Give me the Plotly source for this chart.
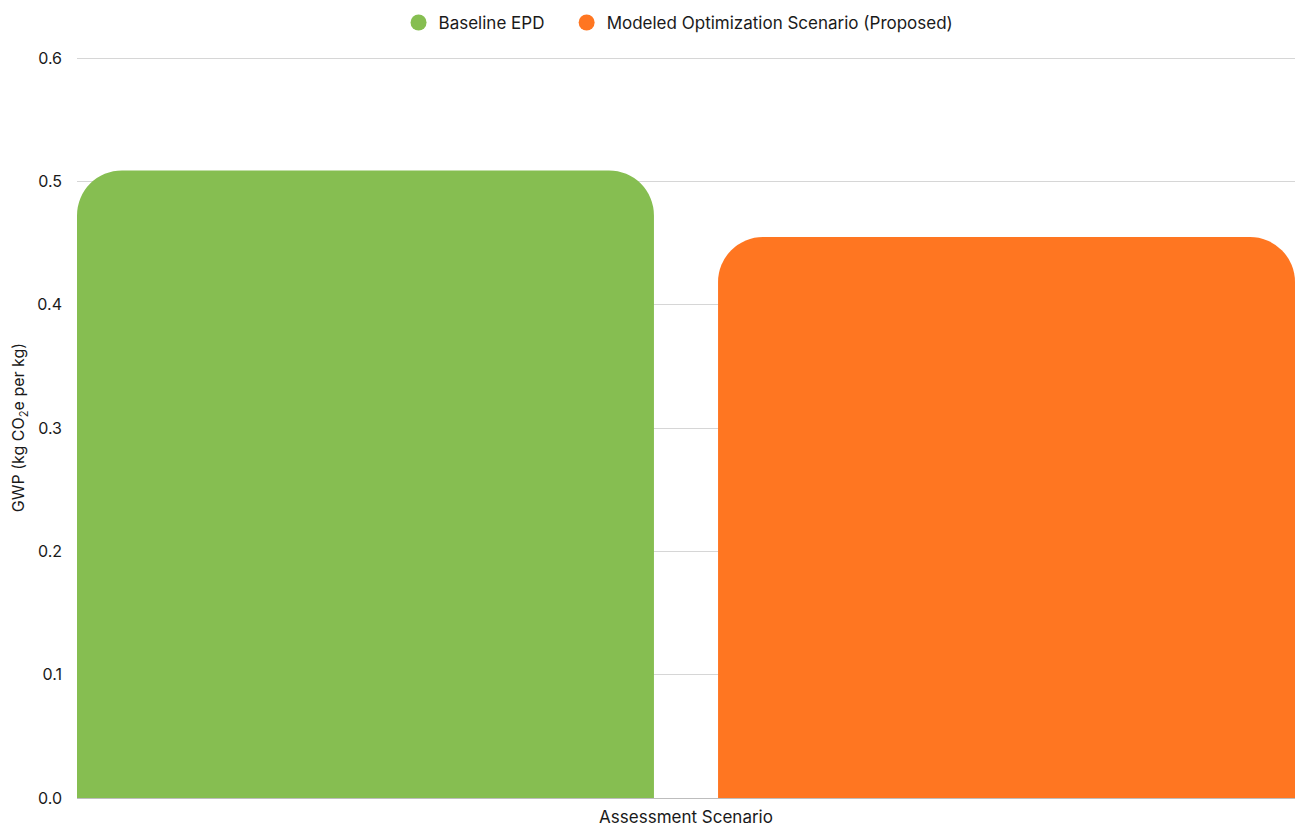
import plotly.graph_objects as go

categories = ["Assessment Scenario"]
series_names = ["Baseline EPD", "Modeled Optimization Scenario (Proposed)"]
baseline_values = [0.509]
optimized_values = [0.455]
colors = ["#86BE51", "#FF7621"]
y_ticks = [0.0, 0.1, 0.2, 0.3, 0.4, 0.5, 0.6]

fig = go.Figure()
legend_ids = ["legend", "legend2"]
for name, vals, col, lg in zip(series_names, [baseline_values, optimized_values], colors, legend_ids):
    fig.add_trace(go.Bar(x=categories, y=vals, name=name, marker_color=col,
                         marker_line_width=0, showlegend=False))
    fig.add_trace(go.Scatter(x=[None], y=[None], mode="markers", name=name, legend=lg,
                             marker=dict(symbol="circle", size=20, color=col)))

font = "Inter, Roboto, Arial, sans-serif"
legend_common = dict(orientation="h", xanchor="left", y=0.994, yanchor="top",
                     yref="container", font=dict(size=17), itemwidth=30,
                     bgcolor="rgba(0,0,0,0)")
fig.update_layout(
    width=1296, height=823,
    margin=dict(l=77, r=1, t=57, b=25, autoexpand=False),
    paper_bgcolor="white", plot_bgcolor="white",
    barmode="group", bargap=0, bargroupgap=0.1, barcornerradius=45,
    font=dict(family=font, color="#1a1a1a", size=16),
    legend=dict(x=0.264, **legend_common),
    legend2=dict(x=0.402, **legend_common),
    xaxis=dict(range=[-0.475, 0.475], showgrid=False, showline=False, automargin=False,
               tickfont=dict(size=17), ticks="", zeroline=False, ticklabelstandoff=7),
    yaxis=dict(range=[0, 0.601], tickvals=y_ticks, tickformat=".1f", automargin=False,
               gridcolor="#d6d6d6", gridwidth=1, zeroline=True,
               zerolinecolor="#bdbdbd", zerolinewidth=1, showline=False,
               tickfont=dict(size=16), ticks="", ticklabelstandoff=14,
               title=dict(text="GWP (kg CO<sub>2</sub>e per kg)", font=dict(size=16),
                          standoff=8)),
)
post = ("document.body.style.margin='0px';"
        "var gd=document.getElementById('{plot_id}');"
        "Plotly.relayout(gd,{width:1296,height:823});")
fig.write_html("out.html", post_script=post, config={"displayModeBar": False})
